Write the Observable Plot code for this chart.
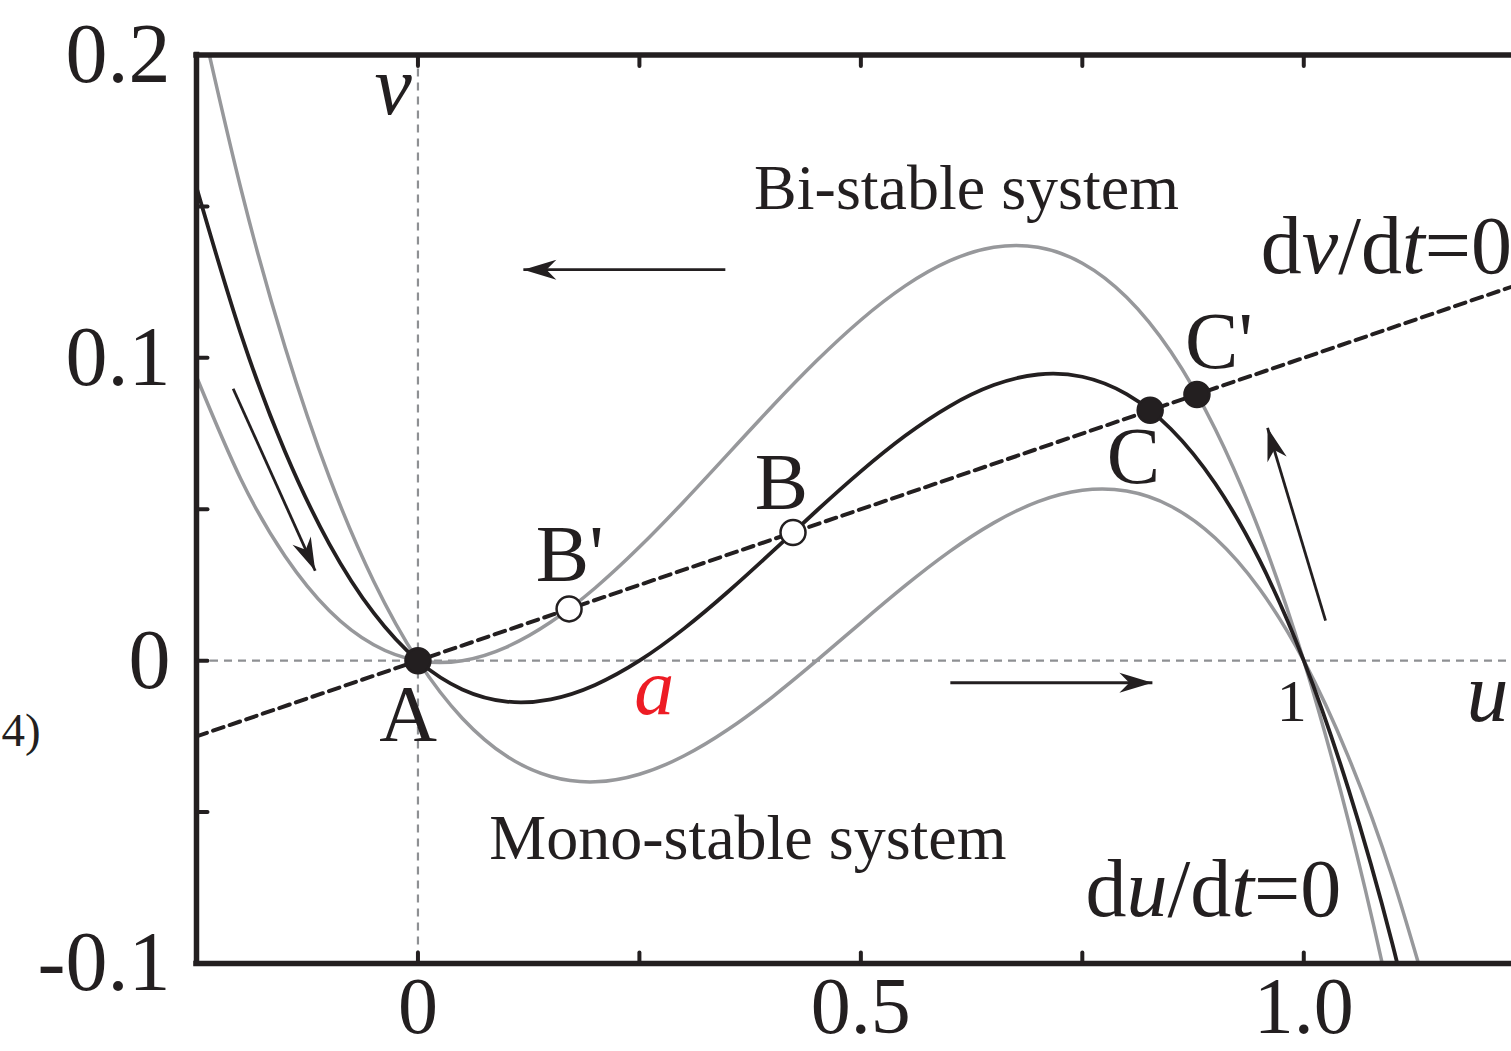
<!DOCTYPE html>
<html>
<head>
<meta charset="utf-8">
<script src="https://cdn.jsdelivr.net/npm/d3@7"></script>
<script src="https://cdn.jsdelivr.net/npm/@observablehq/plot@0.6"></script>
<style>
  html, body { margin: 0; padding: 0; background: #fff; }
  #chart svg { display: block; }
</style>
</head>
<body>
<div id="chart"></div>
<script>
// ---------------- data ----------------
// sampled u positions of the du/dt=0 nullclines
const uGrid = [-0.25,-0.2,-0.15,-0.1,-0.05,0,0.05,0.1,0.15,0.2,0.25,0.3,0.35,0.4,0.45,0.5,0.55,0.6,0.65,0.7,0.75,0.8,0.85,0.9,0.95,1.0,1.05,1.1,1.15];
// upper gray curve (bi-stable, small a)
const vBistable = [0.09375,0.06,0.0345,0.0165,0.00525,0,0,0.0045,0.01275,0.024,0.0375,0.0525,0.06825,0.084,0.099,0.1125,0.12375,0.132,0.1365,0.1365,0.13125,0.12,0.102,0.0765,0.04275,0,-0.0525,-0.1155,-0.18975];
// black curve (a = 0.25)
const vMiddle = [0.15625,0.108,0.069,0.0385,0.01575,0,-0.0095,-0.0135,-0.01275,-0.008,0,0.0105,0.02275,0.036,0.0495,0.0625,0.07425,0.084,0.091,0.0945,0.09375,0.088,0.0765,0.0585,0.03325,0,-0.042,-0.0935,-0.15525];
// lower gray curve (mono-stable, large a)
const vMonostable = [0.21875,0.156,0.1035,0.0605,0.02625,0,-0.019,-0.0315,-0.03825,-0.04,-0.0375,-0.0315,-0.02275,-0.012,0,0.0125,0.02475,0.036,0.0455,0.0525,0.05625,0.056,0.051,0.0405,0.02375,0,-0.0315,-0.0715,-0.12075];

// dv/dt = 0 straight nullcline
const nullU = [-0.25, 1.25];
const nullV = [-0.025, 0.125];

// fixed points
const pointNames  = ["A", "B'", "B", "C", "C'"];
const pointU      = [0, 0.1706, 0.4234, 0.8266, 0.8794];
const pointV      = [0, 0.0171, 0.0423, 0.0827, 0.0879];
const pointStable = [true, false, false, true, true];

// flow arrows (tail -> tip)
const arrowU1 = [0.347, 0.601, -0.2086, 1.0246];
const arrowV1 = [0.1291, -0.0073, 0.0898, 0.0132];
const arrowU2 = [0.119, 0.8291, -0.1160, 0.9591];
const arrowV2 = [0.1291, -0.0073, 0.0297, 0.0769];

// axes
const xDomain = [-0.25, 1.2345];
const yDomain = [-0.1, 0.2];
const xTickValues = [0, 0.5, 1.0];
const xTickLabels = ["0", "0.5", "1.0"];
const yTickValues = [-0.1, 0, 0.1, 0.2];
const yTickLabels = ["-0.1", "0", "0.1", "0.2"];
const xMinorTicks = [0, 0.25, 0.5, 0.75, 1.0];
const yMinorTicks = [-0.05, 0, 0.05, 0.1, 0.15];
const guideU = [0];
const guideV = [0];

// annotation texts
const letterText = ["A", "B", "C"];
const letterU = [-0.011, 0.4102, 0.8077];
const letterV = [-0.0264, 0.0502, 0.0588];
const primeText = ["B'", "C'"];
const primeU = [0.1330, 0.8660];
const primeV = [0.0264, 0.0968];
const regionText = ["Bi-stable system", "Mono-stable system"];
const regionU = [0.3795, 0.0805];
const regionV = [0.1493, -0.0654];
const eqText = ["dv/dt=0", "du/dt=0"];
const eqU = [0.9515, 0.7535];
const eqV = [0.1281, -0.0842];
const axisNameText = ["v", "u"];
const axisNameU = [-0.0279, 1.2075];
const axisNameV = [0.1806, -0.0198];

// ---------------- layout & style ----------------
const W = 1511, H = 1051;
const ML = 196, MR = 0, MT = 54.5, MB = 88;
const INK = "#231f20", GRAY = "#97989b", GUIDE = "#8e9093", RED = "#ed1c24";
const FONT = "'Liberation Serif', 'Times New Roman', serif";

const kx = (W - ML - MR) / (xDomain[1] - xDomain[0]);
const ky = (H - MT - MB) / (yDomain[1] - yDomain[0]);

const rows = (vs, name) => uGrid.map((u, i) => ({u, v: vs[i], series: name}));
const rowsBi = rows(vBistable, "bi");
const rowsMid = rows(vMiddle, "mid");
const rowsMono = rows(vMonostable, "mono");
const nullRows = nullU.map((u, i) => ({u, v: nullV[i]}));
const points = pointNames.map((n, i) => ({name: n, u: pointU[i], v: pointV[i], stable: pointStable[i]}));
const arrows = arrowU1.map((u1, i) => {
  const u2 = arrowU2[i], v1 = arrowV1[i], v2 = arrowV2[i];
  const angle = Math.atan2((u2 - u1) * kx, (v2 - v1) * ky) * 180 / Math.PI;
  return {u1, v1, u2, v2, angle};
});
const mk = (texts, us, vs) => texts.map((t, i) => ({t, u: us[i], v: vs[i]}));

const tickShape = {draw(ctx, l) { ctx.moveTo(0, 0); ctx.lineTo(0, -l); }};
const headShape = {draw(ctx, l) {
  ctx.moveTo(0, -l); ctx.lineTo(-10, 0); ctx.lineTo(0, -0.3 * l); ctx.lineTo(10, 0); ctx.closePath();
}};

const xFmt = new Map(xTickValues.map((v, i) => [v, xTickLabels[i]]));
const yFmt = new Map(yTickValues.map((v, i) => [v, yTickLabels[i]]));

const plot = Plot.plot({
  width: W, height: H,
  marginLeft: ML, marginRight: MR, marginTop: MT, marginBottom: MB,
  x: {domain: xDomain, axis: null},
  y: {domain: yDomain, axis: null},
  style: {fontFamily: FONT, background: "white", color: INK, overflow: "visible"},
  marks: [
    // guide lines through the origin
    Plot.ruleX(guideU, {x: d => d, stroke: GUIDE, strokeWidth: 2.2, strokeDasharray: "8,6"}),
    Plot.ruleY(guideV, {y: d => d, stroke: GUIDE, strokeWidth: 2.2, strokeDasharray: "8,6"}),
    // du/dt = 0 nullclines
    Plot.line(rowsBi, {x: "u", y: "v", stroke: GRAY, strokeWidth: 3.5, curve: "natural", clip: true}),
    Plot.line(rowsMono, {x: "u", y: "v", stroke: GRAY, strokeWidth: 3.5, curve: "natural", clip: true}),
    Plot.line(rowsMid, {x: "u", y: "v", stroke: INK, strokeWidth: 3.8, curve: "natural", clip: true}),
    // dv/dt = 0 nullcline
    Plot.line(nullRows, {x: "u", y: "v", stroke: INK, strokeWidth: 4, strokeDasharray: "11,6.5", clip: true}),
    // frame (left, top, bottom)
    Plot.ruleX([xDomain[0]], {x: d => d, stroke: INK, strokeWidth: 5.5, strokeLinecap: "square"}),
    Plot.ruleY([yDomain[0], yDomain[1]], {y: d => d, stroke: INK, strokeWidth: 5.5, strokeLinecap: "square"}),
    // inward ticks
    Plot.vector(xMinorTicks, {x: d => d, frameAnchor: "top", length: 11, rotate: 180, anchor: "start", shape: tickShape, stroke: INK, strokeWidth: 4}),
    Plot.vector(xMinorTicks, {x: d => d, frameAnchor: "bottom", length: 11, rotate: 0, anchor: "start", shape: tickShape, stroke: INK, strokeWidth: 4}),
    Plot.vector(yMinorTicks, {y: d => d, frameAnchor: "left", length: 11, rotate: 90, anchor: "start", shape: tickShape, stroke: INK, strokeWidth: 4}),
    // tick labels
    Plot.axisX({ticks: xTickValues, tickFormat: d => xFmt.get(d), tickSize: 0, tickPadding: 13, fontSize: 80, fill: INK, anchor: "bottom"}),
    Plot.axisY({ticks: yTickValues, tickFormat: d => yFmt.get(d), tickSize: 0, tickPadding: 26, fontSize: 84, fill: INK, anchor: "left"}),
    // flow arrows
    Plot.link(arrows, {x1: "u1", y1: "v1", x2: "u2", y2: "v2", stroke: INK, strokeWidth: 2.8}),
    Plot.vector(arrows, {x: "u2", y: "v2", rotate: "angle", length: 33, anchor: "end", shape: headShape, fill: INK, stroke: "none"}),
    // fixed points
    Plot.dot(points, {x: "u", y: "v", r: 12.5, fill: d => d.stable ? INK : "white", stroke: INK, strokeWidth: 2.5}),
    // labels
    Plot.text(mk(letterText, letterU, letterV), {x: "u", y: "v", text: "t", textAnchor: "middle", lineAnchor: "bottom", fontSize: 80, fill: INK}),
    Plot.text(mk(primeText, primeU, primeV), {x: "u", y: "v", text: "t", textAnchor: "start", lineAnchor: "bottom", fontSize: 80, fill: INK}),
    Plot.text(mk(regionText, regionU, regionV), {x: "u", y: "v", text: "t", textAnchor: "start", lineAnchor: "bottom", fontSize: 64, fill: INK}),
    Plot.text(mk(eqText, eqU, eqV), {x: "u", y: "v", text: "t", textAnchor: "start", lineAnchor: "bottom", fontSize: 82, fill: INK}),
    Plot.text(mk(axisNameText, axisNameU, axisNameV), {x: "u", y: "v", text: "t", textAnchor: "middle", lineAnchor: "bottom", fontSize: 84, fontStyle: "italic", fill: INK}),
    Plot.text(mk(["a"], [0.2668], [-0.0175]), {x: "u", y: "v", text: "t", textAnchor: "middle", lineAnchor: "bottom", fontSize: 80, fontStyle: "italic", fill: RED}),
    Plot.text(mk(["1"], [0.9864], [-0.0198]), {x: "u", y: "v", text: "t", textAnchor: "middle", lineAnchor: "bottom", fontSize: 60, fill: INK}),
    Plot.text(mk(["4)"], [-0.4700], [-0.0281]), {x: "u", y: "v", text: "t", textAnchor: "start", lineAnchor: "bottom", fontSize: 47, fill: INK})
  ]
});

// italic variables inside the equation labels
plot.querySelectorAll("text").forEach(el => {
  const s = el.textContent;
  if (s === "dv/dt=0" || s === "du/dt=0") {
    const parts = [["d", false], [s[1], true], ["/d", false], ["t", true], ["=0", false]];
    el.textContent = "";
    for (const [txt, it] of parts) {
      const ts = document.createElementNS("http://www.w3.org/2000/svg", "tspan");
      ts.textContent = txt;
      if (it) ts.setAttribute("font-style", "italic");
      el.appendChild(ts);
    }
  }
});

document.getElementById("chart").appendChild(plot);
</script>
</body>
</html>
